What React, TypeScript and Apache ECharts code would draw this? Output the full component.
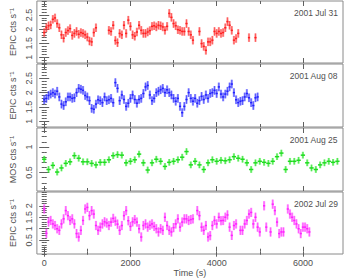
import React, { useEffect, useRef } from "react";
import * as echarts from "echarts";

// ---- data (count rates, regular time bins starting at t = 0 s) ----
const epicBin = 50; // s
const mosBin = 100; // s

const jul31Rates = [
  1.88, 2.05, 2.12, 2.15, 2.35, 2.4, 2.2, 2.05, 1.8, 1.68,
  1.88, 1.95, 2.02, 1.78, 1.85, 1.92, 1.82, 1.88, 1.85, 1.8,
  1.72, 1.58, 1.55, 1.88, 2.05, null, null, null, null, null,
  1.96, 1.92, 2.14, 1.6, 1.52, 1.85, 1.8, 2.14, 1.85, 2.32,
  2.1, 1.8, 1.75, 1.9, 2.14, 1.96, 1.85, 1.85, 1.9, 1.95,
  2.1, 2.12, 2.08, 2.14, 2.12, 2.08, 1.96, 2.1, 2.56, 2.42,
  2.2, 2.12, 1.98, 1.96, 1.92, 1.92, 2.2, 1.92, 1.8, 1.61,
  null, null, 1.92, 1.49, 1.39, 1.25, 1.55, 1.55, 1.61, 1.92,
  1.85, 1.92, 1.85, 1.88, 2.05, 2.27, 2.14, 1.96, 1.61, 1.67,
  1.85, null, null, null, null, 1.7, null, null, 1.7,
];

const aug08Rates = [
  1.75, 1.8, 1.9, 1.95, 2.0, 1.95, 2.05, 1.85, 1.6, 1.55,
  1.68, 1.85, 1.85, 1.8, 1.82, 2.0, 2.15, 2.12, 2.08, 1.9,
  1.85, 1.72, 1.45, 1.42, 1.6, 1.75, 1.72, 1.65, 1.85, 1.72,
  1.75, 1.8, 1.65, 2.35, 2.15, 1.72, 1.92, 1.76, 1.52, 1.63,
  1.8, 1.92, 1.76, 1.63, 1.76, 1.8, 1.97, 2.2, 2.25, 1.92,
  1.72, 1.8, 2.0, 2.05, 2.1, 2.15, 2.0, 2.1, 2.0, 1.92,
  1.8, 1.7, 1.8, 1.52, 1.3, 1.52, 1.76, 2.0, 1.8, 1.7,
  1.8, 1.63, 1.72, 1.87, 1.76, 1.92, 1.8, 1.97, 2.0, 2.08,
  1.97, 2.2, 1.95, 1.85, 1.95, 2.05, 2.2, 2.3, 2.0, 1.75,
  1.65, 1.7, 1.72, 1.85, 1.97, 1.82, 1.65, 1.55, 1.82, 1.85,
];

const aug25Rates = [
  0.76, 0.56, 0.64, 0.51, 0.59, 0.68, 0.71, 0.83, 0.78, 0.71,
  0.71, 0.68, 0.65, 0.7, 0.7, 0.75, 0.83, 0.85, 0.84, 0.69,
  0.72, 0.75, 0.86, 0.69, 0.55, 0.69, 0.76, 0.72, 0.62, 0.7,
  0.72, 0.75, 0.8, 0.91, 0.65, 0.72, 0.65, 0.56, 0.69, 0.75,
  0.72, 0.74, 0.73, 0.75, 0.81, 0.78, 0.76, 0.69, 0.56, 0.69,
  0.72, 0.7, 0.68, 0.72, 0.81, 0.88, 0.56, 0.72, 0.72, 0.74,
  0.84, 0.69, 0.59, 0.56, 0.65, 0.69, 0.72, 0.7, 0.72,
];

const jul29Rates = [
  1.86, 0.8, 1.29, 1.36, 1.21, 1.14, 1.0, 0.93, 1.21, 1.43,
  1.79, 1.57, 1.36, 1.43, 1.21, 0.79, 0.64, 0.93, 1.36, 1.86,
  1.93, 1.57, 1.79, 1.64, 1.14, 0.93, 1.07, 1.21, 1.3, 1.25,
  1.14, 1.29, 1.45, 1.33, 1.2, 0.93, 1.14, 1.57, 1.79, 1.35,
  1.1, 1.3, 1.4, 1.29, 1.0, 0.64, 1.14, 1.21, 1.07, 1.15,
  1.21, 1.1, 1.0, 0.86, 1.0, 0.93, 1.5, 1.14, 0.93, 0.86,
  1.05, 1.21, 1.43, 1.07, 1.29, 1.43, 1.43, 1.36, 1.4, 1.43,
  null, 1.79, 1.57, 1.07, 0.93, 1.14, 0.64, 0.7, 1.14, 1.36,
  1.21, 1.5, 1.35, 1.36, 1.5, 1.6, 1.07, 0.71, 1.14, 1.21,
  null, 0.93, 0.93, 1.21, 1.36, 1.64, 1.71, 1.21, 1.5, 1.07,
  0.86, null, 2.0, 1.07, null, 0.86, 2.07, 1.79, 1.29, 0.79,
  0.86, 0.86, null, 1.86, 1.64, 1.5, 1.36, 1.21, 1.0, 0.79,
  1.07, 1.07, 1.0, 0.86,
];

// 1-sigma error bar half-heights (cts/s)
const jul31Err = 0.15;
const aug08Err = 0.15;
const aug25Err = 0.065;
const jul29Err = 0.2;

const panelDates = ["2001 Jul 31", "2001 Aug 08", "2001 Aug 25", "2002 Jul 29"];
const yTitles = ["EPIC cts s\u207B\u00B9", "EPIC cts s\u207B\u00B9", "MOS cts s\u207B\u00B9", "EPIC cts s\u207B\u00B9"];
const yTickLabels = [
  [1, 1.5, 2, 2.5],
  [1, 1.5, 2, 2.5],
  [0.5, 1],
  [0.5, 1, 1.5, 2],
];
const yRanges = [
  [0.8, 3.0],
  [0.8, 3.0],
  [0.14, 1.37],
  [-0.1, 2.6],
];
const xTickLabels = [0, 2000, 4000, 6000];
const xMinorTicks = [1000, 3000, 5000];
const xAxisName = "Time (s)";

// ---- layout / style ----
const X_MIN = -170;
const X_MAX = 6930;
const GRID_LEFT = 32;
const GRID_WIDTH = 311;
const TOPS = [1, 64, 128, 192];
const HEIGHTS = [62, 63, 63, 62];
const FONT = "'Liberation Sans', Arial, sans-serif";
const TEXT = "#505050";
const TICK = "#606060";
const FRAME = "#8a8a8a";

const COLORS = [
  { strong: "#ff2020", light: "rgba(255,80,80,0.55)" },
  { strong: "#2020ff", light: "rgba(80,80,255,0.55)" },
  { strong: "#1fdc1f", light: "rgba(70,240,70,0.6)" },
  { strong: "#ff20ff", light: "rgba(255,80,255,0.55)" },
];

function tickSteps(min: number, max: number, step: number): number[] {
  const out: number[] = [];
  for (let k = Math.ceil(min / step - 1e-9); k * step <= max + 1e-9; k++) {
    out.push(+(k * step).toFixed(4));
  }
  return out;
}

function toPoints(rates: (number | null)[], bin: number, err: number) {
  const pts: number[][] = [];
  rates.forEach((v, i) => {
    if (v != null) pts.push([i * bin, v, err, bin / 2]);
  });
  return pts;
}

const panelData = [
  toPoints(jul31Rates, epicBin, jul31Err),
  toPoints(aug08Rates, epicBin, aug08Err),
  toPoints(aug25Rates, mosBin, aug25Err),
  toPoints(jul29Rates, epicBin, jul29Err),
];

export default function App() {
  const ref = useRef<HTMLDivElement>(null);

  useEffect(() => {
    document.body.style.margin = "0";
    if (!ref.current) return;
    const chart = echarts.init(ref.current, null, { renderer: "svg" });

    const grids: any[] = [];
    const xAxes: any[] = [];
    const yAxes: any[] = [];
    const series: any[] = [];
    const graphics: any[] = [];

    for (let i = 0; i < 4; i++) {
      grids.push({
        left: GRID_LEFT,
        width: GRID_WIDTH,
        top: TOPS[i],
        height: HEIGHTS[i],
        show: true,
        borderColor: FRAME,
        borderWidth: 1,
        backgroundColor: "transparent",
      });
      const isLast = i === 3;
      const xBase = {
        gridIndex: i,
        type: "value",
        min: X_MIN,
        max: X_MAX,
        axisLine: { show: false },
        splitLine: { show: false },
      };
      xAxes.push({
        ...xBase,
        position: "bottom",
        axisTick: { show: true, inside: true, length: 5, customValues: xTickLabels, lineStyle: { color: TICK } },
        axisLabel: {
          show: isLast,
          customValues: xTickLabels,
          formatter: (v: number) => String(v),
          margin: 4,
          fontSize: 9,
          color: TEXT,
          fontFamily: FONT,
        },
        name: isLast ? xAxisName : "",
        nameLocation: "middle",
        nameGap: 14,
        nameTextStyle: { fontSize: 9, color: TEXT, fontFamily: FONT },
      });
      xAxes.push({
        ...xBase,
        position: "bottom",
        axisTick: { show: true, inside: true, length: 3, customValues: xMinorTicks, lineStyle: { color: TICK } },
        axisLabel: { show: false },
      });
      xAxes.push({
        ...xBase,
        position: "top",
        axisTick: { show: true, inside: true, length: 5, customValues: xTickLabels, lineStyle: { color: TICK } },
        axisLabel: { show: false },
      });
      xAxes.push({
        ...xBase,
        position: "top",
        axisTick: { show: true, inside: true, length: 3, customValues: xMinorTicks, lineStyle: { color: TICK } },
        axisLabel: { show: false },
      });

      const [yMin, yMax] = yRanges[i];
      const minor = tickSteps(yMin, yMax, 0.1);
      const yBase = {
        gridIndex: i,
        type: "value",
        min: yMin,
        max: yMax,
        axisLine: { show: false },
        splitLine: { show: false },
      };
      yAxes.push({
        ...yBase,
        position: "left",
        axisTick: { show: true, inside: true, length: 5, customValues: yTickLabels[i], lineStyle: { color: TICK } },
        axisLabel: {
          show: true,
          customValues: yTickLabels[i],
          formatter: (v: number) => String(v),
          rotate: 90,
          margin: 3,
          fontSize: 9,
          color: TEXT,
          fontFamily: FONT,
        },
        name: yTitles[i],
        nameLocation: "middle",
        nameGap: 19,
        nameTextStyle: { fontSize: 9, color: TEXT, fontFamily: FONT },
      });
      yAxes.push({
        ...yBase,
        position: "left",
        axisTick: { show: true, inside: true, length: 2.5, customValues: minor, lineStyle: { color: TICK } },
        axisLabel: { show: false },
      });
      yAxes.push({
        ...yBase,
        position: "right",
        axisTick: { show: true, inside: true, length: 5, customValues: yTickLabels[i], lineStyle: { color: TICK } },
        axisLabel: { show: false },
      });
      yAxes.push({
        ...yBase,
        position: "right",
        axisTick: { show: true, inside: true, length: 2.5, customValues: minor, lineStyle: { color: TICK } },
        axisLabel: { show: false },
      });

      const col = COLORS[i];
      series.push({
        type: "custom",
        xAxisIndex: i * 4,
        yAxisIndex: i * 4,
        clip: true,
        silent: true,
        data: panelData[i],
        encode: { x: 0, y: 1 },
        renderItem: (_params: any, api: any) => {
          const t = api.value(0);
          const v = api.value(1);
          const e = api.value(2);
          const hb = api.value(3);
          const top = api.coord([t, v + e]);
          const bot = api.coord([t, v - e]);
          const l = api.coord([t - hb, v]);
          const r = api.coord([t + hb, v]);
          return {
            type: "group",
            children: [
              {
                type: "line",
                shape: { x1: top[0], y1: top[1], x2: bot[0], y2: bot[1] },
                style: { stroke: col.light, lineWidth: 2.2 },
              },
              {
                type: "line",
                shape: { x1: top[0], y1: top[1], x2: bot[0], y2: bot[1] },
                style: { stroke: col.strong, lineWidth: 0.7, opacity: 0.8 },
              },
              {
                type: "line",
                shape: { x1: l[0], y1: l[1], x2: r[0], y2: r[1] },
                style: { stroke: col.strong, lineWidth: 1.5 },
              },
            ],
          };
        },
      });

      graphics.push({
        type: "text",
        right: 346 - 338,
        top: TOPS[i] + 7,
        style: {
          text: panelDates[i],
          fontSize: 8.5,
          fill: TEXT,
          fontFamily: FONT,
        },
      });
    }

    chart.setOption({
      animation: false,
      grid: grids,
      xAxis: xAxes,
      yAxis: yAxes,
      series,
      graphic: graphics,
    });

    return () => chart.dispose();
  }, []);

  return (
    <div
      ref={ref}
      style={{ position: "fixed", left: 0, top: 0, width: 346, height: 278, background: "#fff" }}
    />
  );
}
